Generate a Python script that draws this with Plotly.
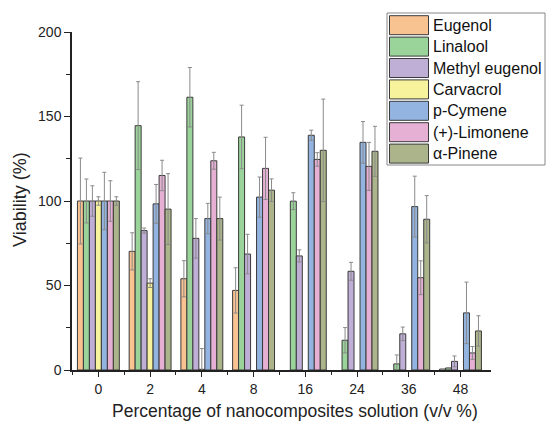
import plotly.graph_objects as go

categories = ["0", "2", "4", "8", "16", "24", "36", "48"]
series_names = ["Eugenol", "Linalool", "Methyl eugenol", "Carvacrol", "p-Cymene", "(+)-Limonene", "α-Pinene"]

eugenol = [100, 70.2, 54.0, 47.1, None, None, None, 0.5]
eugenol_err = [25.4, 11.0, 10.7, 13.4, None, None, None, 0]
linalool = [100, 144.6, 161.4, 137.9, 99.9, 17.6, 3.6, 1.2]
linalool_err = [13.0, 26.0, 17.6, 18.8, 5.0, 7.5, 5.3, 0]
methyl_eugenol = [100, 82.5, 77.9, 68.6, 67.5, 58.4, 21.4, 5.1]
methyl_eugenol_err = [9.0, 1.5, 11.7, 11.7, 3.6, 5.3, 4.0, 3.2]
carvacrol = [100, 51.4, 0.4, None, None, None, None, None]
carvacrol_err = [2.5, 2.6, 12.3, None, None, None, None, None]
p_cymene = [100, 98.3, 89.6, 102.3, 138.9, 134.7, 96.7, 33.8]
p_cymene_err = [17.0, 11.5, 9.0, 11.9, 3.0, 12.3, 18.0, 18.2]
limonene = [100, 115.1, 123.8, 119.3, 124.6, 120.5, 54.6, 10.1]
limonene_err = [12.0, 9.0, 5.0, 18.4, 4.0, 14.2, 10.0, 3.8]
pinene = [100, 95.2, 89.6, 106.4, 130.0, 129.4, 89.2, 23.1]
pinene_err = [2.5, 21.0, 12.7, 6.7, 30.3, 14.8, 14.0, 9.0]

values = [eugenol, linalool, methyl_eugenol, carvacrol, p_cymene, limonene, pinene]
errors = [eugenol_err, linalool_err, methyl_eugenol_err, carvacrol_err, p_cymene_err, limonene_err, pinene_err]
colors = ["#F8C291", "#9AD49A", "#BFAED6", "#F7F29C", "#93B4E0", "#E5B0D4", "#ABB48B"]

xpos = list(range(len(categories)))

fig = go.Figure()
for name, vals, errs, col in zip(series_names, values, errors, colors):
    fig.add_trace(go.Bar(
        name=name, x=xpos, y=vals, showlegend=False,
        marker=dict(color=col, line=dict(color="#3a3a3a", width=1)),
        error_y=dict(type="data", array=[e if e is not None else 0 for e in errs],
                     visible=True, color="#8a8a8a", thickness=1, width=2),
    ))

# The page body adds an 8px offset, so the figure is 8px smaller than the window
OFF = 8
W, H = 554 - OFF, 421 - OFF
ML, MR, MT, MB = 72 - OFF, 63, 32 - OFF, 51
pw, ph = W - ML - MR, H - MT - MB


def px_x(x):  # x in window pixels -> paper fraction
    return (x - OFF - ML) / pw


def px_y(y):  # y in window pixels -> paper fraction
    return (H - MB - (y - OFF)) / ph


shapes = [dict(type="rect", xref="paper", yref="paper",
               x0=px_x(387), x1=px_x(545), y0=px_y(165), y1=px_y(13),
               line=dict(color="#888", width=1), fillcolor="white", layer="above")]
annotations = []
for i, (name, col) in enumerate(zip(series_names, colors)):
    top = 15.7 + 21.4 * i
    shapes.append(dict(type="rect", xref="paper", yref="paper",
                       x0=px_x(389.5), x1=px_x(428.5), y0=px_y(top + 19), y1=px_y(top),
                       line=dict(color="#3a3a3a", width=1), fillcolor=col, layer="above"))
    annotations.append(dict(xref="paper", yref="paper", x=px_x(431), y=px_y(top + 9.7),
                            text=name, showarrow=False, xanchor="left", yanchor="middle",
                            font=dict(size=16, color="#111")))

# axis titles
annotations.append(dict(xref="paper", yref="paper", x=px_x(294.5), y=px_y(411),
                        text="Percentage of nanocomposites solution (v/v %)", showarrow=False,
                        xanchor="center", yanchor="middle", font=dict(size=17.5, color="#222")))
annotations.append(dict(xref="paper", yref="paper", x=px_x(20), y=px_y(200),
                        text="Viability (%)", showarrow=False, textangle=-90,
                        xanchor="center", yanchor="middle", font=dict(size=18, color="#222")))

font_family = "Liberation Sans, Arial, sans-serif"
fig.update_layout(
    width=W, height=H,
    barmode="group", bargap=0.19, bargroupgap=0,
    margin=dict(l=ML, r=MR, t=MT, b=MB, autoexpand=False),
    paper_bgcolor="white", plot_bgcolor="white",
    font=dict(family=font_family, size=14, color="#222"),
    showlegend=False,
    shapes=shapes, annotations=annotations,
    xaxis=dict(
        range=[-0.51, 7.59], tickmode="array", tickvals=xpos, ticktext=categories,
        showline=True, linecolor="#222", linewidth=1.5, ticks="outside", ticklen=5,
        tickcolor="#222", showgrid=False, zeroline=False,
        minor=dict(tickmode="array", tickvals=[i + 0.5 for i in xpos[:-1]] + [-0.5],
                   ticks="outside", ticklen=3, tickcolor="#222"),
        tickfont=dict(size=14),
    ),
    yaxis=dict(
        range=[0, 200], tickvals=[0, 50, 100, 150, 200],
        showline=True, linecolor="#222", linewidth=1.5, ticks="outside", ticklen=6,
        tickcolor="#222", showgrid=False, zeroline=False,
        minor=dict(tickvals=[25, 75, 125, 175], ticks="outside", ticklen=4, tickcolor="#222"),
        tickfont=dict(size=14),
    ),
)

fig.write_html("out.html")
